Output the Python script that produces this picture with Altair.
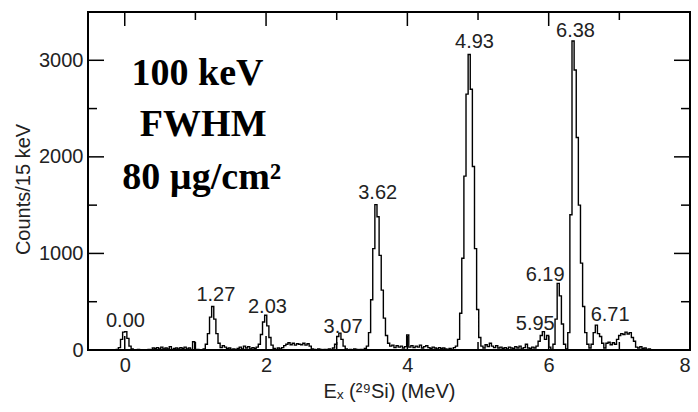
import altair as alt
import pandas as pd

# ---- spectrum data: 30 keV display bins starting at -0.15 MeV ----
bin_start = -0.15
bin_width = 0.03
counts = [
    0, 5, 25, 110, 185, 190, 120, 40, 10, 0,            # -0.15 .. 0.12
    0, 5, 0, 0, 0, 0, 5, 0, 20, 15,                     # 0.15 .. 0.42
    25, 10, 30, 10, 20, 10, 35, 5, 15, 20,              # 0.45 .. 0.72
    10, 25, 15, 30, 10, 20, 5, 85, 0, 5,                # 0.75 .. 1.02
    0, 0, 10, 60, 170, 340, 450, 320, 170, 70,          # 1.05 .. 1.32
    25, 45, 30, 15, 20, 5, 10, 0, 15, 30,               # 1.35 .. 1.62
    10, 40, 20, 35, 10, 25, 15, 30, 60, 160,            # 1.65 .. 1.92
    290, 360, 250, 130, 50, 15, 5, 20, 10, 25,          # 1.95 .. 2.22
    45, 60, 75, 55, 70, 50, 65, 60, 55, 70,             # 2.25 .. 2.52
    50, 65, 40, 10, 5, 0, 10, 5, 0, 5,                  # 2.55 .. 2.82
    0, 10, 5, 20, 60, 140, 175, 110, 40, 10,            # 2.85 .. 3.12
    0, 5, 0, 10, 5, 0, 5, 0, 15, 40,                    # 3.15 .. 3.42
    180, 520, 1050, 1505, 1380, 980, 620, 330, 150, 70, # 3.45 .. 3.72
    40, 50, 25, 45, 30, 40, 20, 35, 155, 30,            # 3.75 .. 4.02
    45, 25, 40, 30, 50, 20, 35, 45, 25, 15,             # 4.05 .. 4.32
    30, 20, 10, 25, 15, 20, 10, 5, 15, 5,               # 4.35 .. 4.62
    25, 40, 110, 380, 950, 1800, 2650, 3060, 2700, 1900,  # 4.65 .. 4.92
    1050, 420, 130, 40, 20, 55, 35, 70, 40, 25,         # 4.95 .. 5.22
    45, 20, 30, 15, 25, 10, 30, 20, 15, 35,             # 5.25 .. 5.52
    20, 40, 10, 25, 60, 20, 15, 30, 20, 40,             # 5.55 .. 5.82
    90, 150, 190, 110, 150, 30, 5, 60, 320, 690,        # 5.85 .. 6.12
    560, 270, 60, 10, 180, 1400, 3200, 2900, 2200, 1500,  # 6.15 .. 6.42
    900, 450, 180, 60, 20, 60, 180, 258, 170, 140,      # 6.45 .. 6.72
    70, 20, 70, 80, 55, 75, 60, 110, 150, 170,          # 6.75 .. 7.02
    160, 185, 165, 180, 130, 90, 30, 20, 35, 15,        # 7.05 .. 7.32
    20, 5, 10, 0, 0,                                    # 7.35 .. 7.47
]

# ---- peak labels (text, energy position, count position) ----
label_text = ["0.00", "1.27", "2.03", "3.07", "3.62", "4.93", "6.38", "6.19", "5.95", "6.71"]
label_x = [0.01, 1.29, 2.02, 3.09, 3.58, 4.95, 6.38, 5.95, 5.81, 6.87]
label_y = [300, 565, 445, 240, 1625, 3190, 3300, 775, 270, 360]

# ---- big annotation ----
note_text = ["100 keV", "FWHM", "80 µg/cm²"]
note_x = [1.03, 1.11, 1.09]
note_y = [2860, 2330, 1780]

# ---- axis ticks ----
x_major = [0, 2, 4, 6, 8]
x_minor = [1, 3, 5, 7]
y_major = [0, 1000, 2000, 3000]
y_minor = [500, 1500, 2500]

W, H = 602, 338
X_DOM = [-0.52, 8]
Y_DOM = [0, 3500]

edges = [round(bin_start + i * bin_width, 4) for i in range(len(counts) + 1)]
spec_df = pd.DataFrame({"E": edges, "N": counts + [0]})

xs = alt.Scale(domain=X_DOM, nice=False, zero=False)
ys = alt.Scale(domain=Y_DOM, nice=False)

AX = dict(format="d", ticks=False, domain=False, grid=False,
          labelFont="Liberation Sans", labelFontSize=20, labelColor="#222",
          titleFont="Liberation Sans", titleFontSize=20, titleColor="#222",
          titleFontWeight="normal")

line = alt.Chart(spec_df).mark_line(
    interpolate="step-after", color="black", strokeWidth=1.4
).encode(
    x=alt.X("E:Q", scale=xs,
            axis=alt.Axis(values=x_major, labelPadding=5, titlePadding=6,
                          title="Eₓ (²⁹Si) (MeV)", **AX)),
    y=alt.Y("N:Q", scale=ys,
            axis=alt.Axis(values=y_major, labelPadding=5, titlePadding=5,
                          titleY=177, title="Counts/15 keV", **AX)),
)

lab_df = pd.DataFrame({"t": label_text, "E": label_x, "N": label_y})
labels = alt.Chart(lab_df).mark_text(
    font="Liberation Sans", fontSize=20, color="#222", baseline="middle", align="center"
).encode(x=alt.X("E:Q", scale=xs), y=alt.Y("N:Q", scale=ys), text="t:N")

note_df = pd.DataFrame({"t": note_text, "E": note_x, "N": note_y})
notes = alt.Chart(note_df).mark_text(
    font="Liberation Serif", fontSize=38, fontWeight="bold", color="black",
    baseline="middle", align="center"
).encode(x=alt.X("E:Q", scale=xs), y=alt.Y("N:Q", scale=ys), text="t:N")


def xticks(vals, length):
    d = pd.DataFrame({"E": vals})
    b = alt.Chart(d).mark_rule(color="black", strokeWidth=1.5).encode(
        x=alt.X("E:Q", scale=xs), y=alt.value(H), y2=alt.value(H - length))
    t = alt.Chart(d).mark_rule(color="black", strokeWidth=1.5).encode(
        x=alt.X("E:Q", scale=xs), y=alt.value(0), y2=alt.value(length))
    return [b, t]


def yticks(vals, length):
    d = pd.DataFrame({"N": vals})
    l = alt.Chart(d).mark_rule(color="black", strokeWidth=1.5).encode(
        y=alt.Y("N:Q", scale=ys), x=alt.value(0), x2=alt.value(length))
    r = alt.Chart(d).mark_rule(color="black", strokeWidth=1.5).encode(
        y=alt.Y("N:Q", scale=ys), x=alt.value(W), x2=alt.value(W - length))
    return [l, r]


layers = [line, labels, notes] + xticks(x_major, 14) + xticks(x_minor, 8) \
    + yticks(y_major, 16) + yticks(y_minor, 9)

chart = alt.layer(*layers).properties(
    width=W, height=H,
    background="white",
    autosize=alt.AutoSizeParams(type="none"),
    padding={"left": 88, "top": 12, "right": 8, "bottom": 62},
).configure_view(
    stroke="black", strokeWidth=2
)

chart.save("out.html", embed_options={"renderer": "svg", "actions": False})
